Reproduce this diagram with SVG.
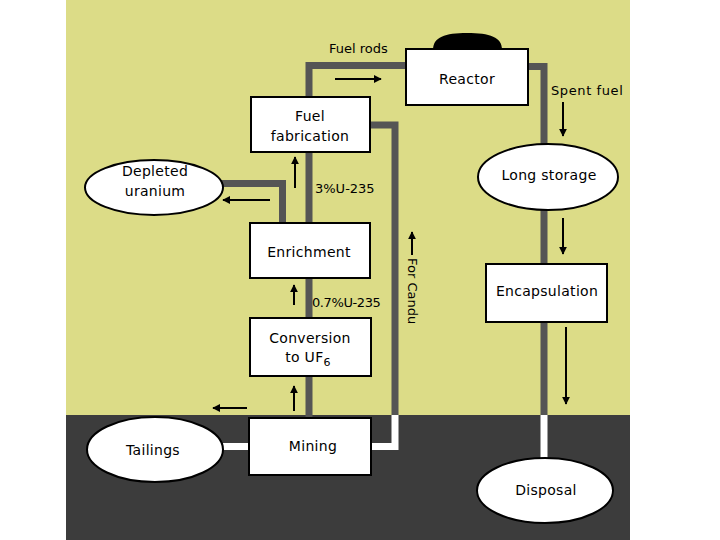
<svg xmlns="http://www.w3.org/2000/svg" width="720" height="540" viewBox="0 0 720 540">
<defs>
<style>
.box{fill:#ffffff;stroke:#000000;stroke-width:2}
.pipe{fill:none;stroke:#555555;stroke-width:7;stroke-linejoin:miter}
.wpipe{fill:none;stroke:#ffffff;stroke-width:7;stroke-linejoin:miter}
.arr{fill:none;stroke:#000000;stroke-width:2;marker-end:url(#ah)}
.t{font-family:"DejaVu Sans","Liberation Sans",sans-serif;font-size:14px;letter-spacing:0.3px;fill:#000000;text-anchor:middle}
.s{font-family:"DejaVu Sans","Liberation Sans",sans-serif;font-size:13px;fill:#000000}
</style>
<marker id="ah" viewBox="0 0 10 10" refX="9" refY="5" markerWidth="4" markerHeight="4" orient="auto" markerUnits="strokeWidth">
<path d="M0,0 L10,5 L0,10 Z" fill="#000000"/>
</marker>
</defs>
<rect x="0" y="0" width="720" height="540" fill="#ffffff"/>
<rect x="66" y="0" width="564" height="415" fill="#dcdc87"/>
<rect x="66" y="415" width="564" height="125" fill="#3c3c3c"/>

<g id="connectors">
<path class="pipe" d="M309,100 V65.5 H410"/>
<path class="pipe" d="M524,66.5 H544 V415"/>
<path class="wpipe" d="M544,415 V462"/>
<path class="pipe" d="M309,418 V100"/>
<path class="pipe" d="M282.5,226 V183.5 H218"/>
<path class="pipe" d="M366,125 H395 V415"/>
<path class="wpipe" d="M395,415 V446.5 H366"/>
<path class="wpipe" d="M218,446.5 H253"/>
<path class="arr" d="M335,79 H381"/>
<path class="arr" d="M563,102 V136"/>
<path class="arr" d="M295,188 V157"/>
<path class="arr" d="M270,200 H223"/>
<path class="arr" d="M294,305 V285"/>
<path class="arr" d="M294,411 V386"/>
<path class="arr" d="M247,408 H213"/>
<path class="arr" d="M412,255 V232"/>
<path class="arr" d="M563,218 V254"/>
<path class="arr" d="M566,327 V404"/>
</g>

<g id="reactor">
<path d="M433,50 C433,37 445,33 467,33 C490,33 502,37 502,50 Z" fill="#000000"/>
<rect class="box" x="406" y="49" width="122" height="56"/>
<text class="t" x="467" y="84">Reactor</text>
</g>

<g id="fuel-fabrication">
<rect class="box" x="251" y="97" width="119" height="55"/>
<text class="t" x="310" y="121">Fuel</text>
<text class="t" x="310" y="141">fabrication</text>
</g>

<g id="depleted-uranium">
<ellipse class="box" cx="154" cy="187.5" rx="69" ry="27.5"/>
<text class="t" x="155" y="176">Depleted</text>
<text class="t" x="155" y="196">uranium</text>
</g>

<g id="enrichment">
<rect class="box" x="250" y="223" width="120" height="55"/>
<text class="t" x="309" y="257">Enrichment</text>
</g>

<g id="conversion">
<rect class="box" x="250" y="318" width="121" height="58"/>
<text class="t" x="310" y="343">Conversion</text>
<text class="t" x="308" y="362">to UF<tspan font-size="11" dy="4">6</tspan></text>
</g>

<g id="mining">
<rect class="box" x="249" y="418" width="122" height="57"/>
<text class="t" x="313" y="451">Mining</text>
</g>

<g id="tailings">
<ellipse class="box" cx="155" cy="449.5" rx="68" ry="32.5"/>
<text class="t" x="153" y="455">Tailings</text>
</g>

<g id="long-storage">
<ellipse class="box" cx="548" cy="177" rx="70" ry="33"/>
<text class="t" x="549" y="180">Long storage</text>
</g>

<g id="encapsulation">
<rect class="box" x="486" y="264" width="121" height="58"/>
<text class="t" x="547" y="296">Encapsulation</text>
</g>

<g id="disposal">
<ellipse class="box" cx="545" cy="490.5" rx="68" ry="32.5"/>
<text class="t" x="546" y="495">Disposal</text>
</g>

<g id="labels">
<text class="s" x="329" y="53">Fuel rods</text>
<text class="s" x="551" y="95" letter-spacing="0.6">Spent fuel</text>
<text class="s" x="315" y="193">3%U-235</text>
<text class="s" x="312" y="307" letter-spacing="-0.4">0.7%U-235</text>
<text class="s" transform="translate(408,258) rotate(90)">For Candu</text>
</g>
</svg>
